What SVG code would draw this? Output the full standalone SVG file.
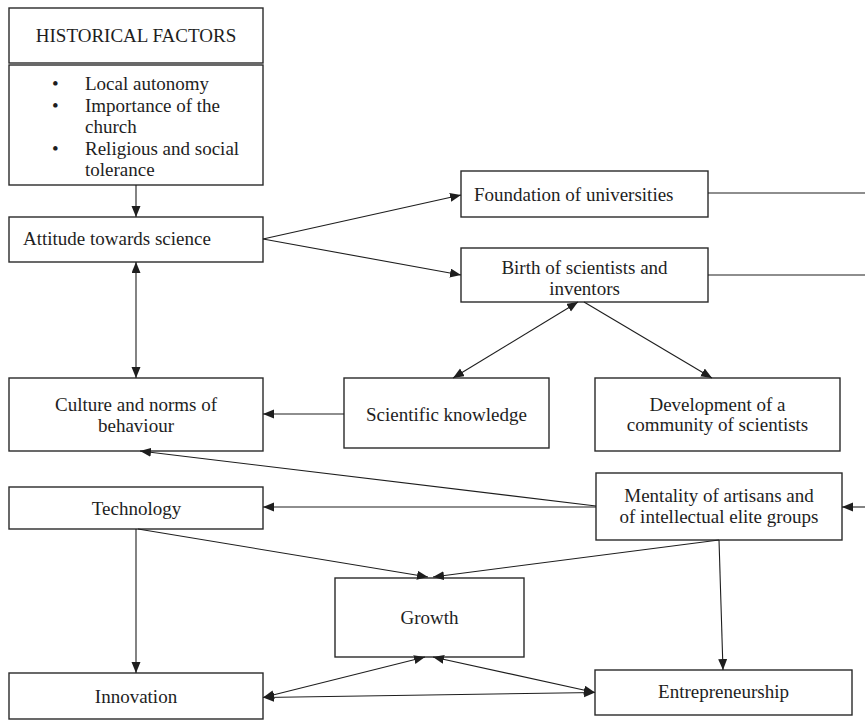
<svg xmlns="http://www.w3.org/2000/svg" width="865" height="720" viewBox="0 0 865 720">
<style>
  .box { fill: #ffffff; stroke: #2a2a2a; stroke-width: 1.4; }
  .t { font-family: "Liberation Serif", "Times New Roman", serif; font-size: 19px; fill: #1e1e1e; }
  .c { text-anchor: middle; }
  .ln { fill: none; stroke: #1e1e1e; stroke-width: 1.1; }
  .a { marker-end: url(#arr); }
  .b { marker-start: url(#arr); marker-end: url(#arr); }
</style>
<defs>
  <marker id="arr" markerUnits="userSpaceOnUse" markerWidth="12" markerHeight="10" refX="11" refY="4.5" orient="auto-start-reverse" viewBox="0 0 12 10">
    <path d="M0,0 L11,4.5 L0,9 z" fill="#1e1e1e"/>
  </marker>
</defs>
<rect width="865" height="720" fill="#ffffff"/>

<g id="historical-factors">
  <rect class="box" x="9" y="8" width="254" height="55"/>
  <text class="t c" x="136" y="42">HISTORICAL FACTORS</text>
</g>
<g id="factors-list">
  <rect class="box" x="9" y="65" width="254" height="120"/>
  <text class="t" x="52" y="90">•</text>
  <text class="t" x="85" y="90">Local autonomy</text>
  <text class="t" x="52" y="111.5">•</text>
  <text class="t" x="85" y="111.5">Importance of the</text>
  <text class="t" x="85" y="133">church</text>
  <text class="t" x="52" y="154.5">•</text>
  <text class="t" x="85" y="154.5">Religious and social</text>
  <text class="t" x="85" y="176">tolerance</text>
</g>
<g id="attitude">
  <rect class="box" x="9" y="217" width="254" height="45"/>
  <text class="t" x="23" y="245">Attitude towards science</text>
</g>
<g id="foundation">
  <rect class="box" x="461" y="171" width="247" height="46"/>
  <text class="t" x="474" y="200.5">Foundation of universities</text>
</g>
<g id="birth">
  <rect class="box" x="461" y="248" width="247" height="54"/>
  <text class="t c" x="584.5" y="273.5">Birth of scientists and</text>
  <text class="t c" x="584.5" y="295">inventors</text>
</g>
<g id="culture">
  <rect class="box" x="9" y="378" width="254" height="73"/>
  <text class="t c" x="136" y="410.5">Culture and norms of</text>
  <text class="t c" x="136" y="431.5">behaviour</text>
</g>
<g id="scientific-knowledge">
  <rect class="box" x="344" y="378" width="205" height="70"/>
  <text class="t c" x="446.5" y="421">Scientific knowledge</text>
</g>
<g id="development">
  <rect class="box" x="595" y="378" width="245" height="73"/>
  <text class="t c" x="717.5" y="410.5">Development of a</text>
  <text class="t c" x="717.5" y="431">community of scientists</text>
</g>
<g id="technology">
  <rect class="box" x="9" y="487" width="254" height="42"/>
  <text class="t c" x="136.5" y="515">Technology</text>
</g>
<g id="mentality">
  <rect class="box" x="596" y="473" width="246" height="67"/>
  <text class="t c" x="719" y="501.5">Mentality of artisans and</text>
  <text class="t c" x="719" y="523">of intellectual elite groups</text>
</g>
<g id="growth">
  <rect class="box" x="335" y="578" width="189" height="79"/>
  <text class="t c" x="429.5" y="624">Growth</text>
</g>
<g id="innovation">
  <rect class="box" x="9" y="673" width="254" height="46"/>
  <text class="t c" x="136" y="703">Innovation</text>
</g>
<g id="entrepreneurship">
  <rect class="box" x="595" y="670" width="257" height="45"/>
  <text class="t c" x="723.5" y="698">Entrepreneurship</text>
</g>

<g id="connectors">
  <line class="ln a" x1="136" y1="185" x2="136" y2="217"/>
  <line class="ln a" x1="263" y1="239" x2="461" y2="195"/>
  <line class="ln a" x1="263" y1="239" x2="461" y2="275"/>
  <line class="ln" x1="708" y1="193" x2="865" y2="193"/>
  <line class="ln" x1="708" y1="275" x2="865" y2="275"/>
  <line class="ln b" x1="136" y1="262" x2="136" y2="378"/>
  <line class="ln b" x1="578" y1="302" x2="453" y2="378"/>
  <line class="ln a" x1="584" y1="302" x2="712" y2="378"/>
  <line class="ln a" x1="344" y1="414" x2="263" y2="414"/>
  <line class="ln a" x1="596" y1="506" x2="140" y2="451"/>
  <line class="ln a" x1="596" y1="507" x2="263" y2="507"/>
  <line class="ln a" x1="865" y1="507" x2="842" y2="507"/>
  <line class="ln a" x1="138" y1="529" x2="428" y2="577"/>
  <line class="ln a" x1="719" y1="540" x2="433" y2="577"/>
  <line class="ln a" x1="136" y1="529" x2="136" y2="673"/>
  <line class="ln a" x1="719" y1="540" x2="723" y2="670"/>
  <line class="ln b" x1="263" y1="697.5" x2="425" y2="657"/>
  <line class="ln b" x1="433" y1="657" x2="595" y2="692.5"/>
  <line class="ln b" x1="263" y1="697.5" x2="595" y2="692.5"/>
</g>
</svg>
